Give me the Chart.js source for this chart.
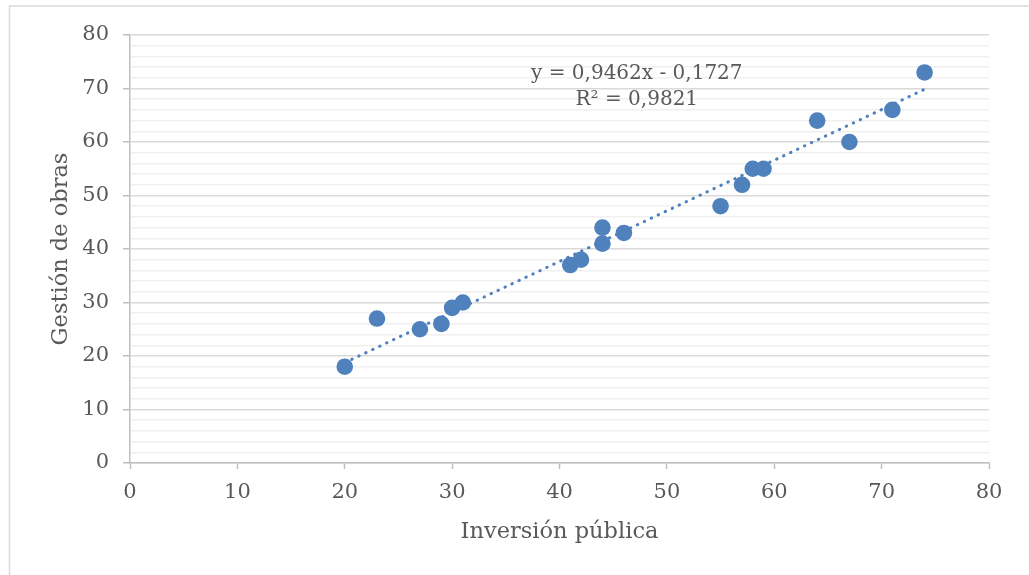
<!DOCTYPE html>
<html>
<head>
<meta charset="utf-8">
<script src="https://cdn.jsdelivr.net/npm/chart.js@4.4.0/dist/chart.umd.min.js"></script>
<style>
  html, body { margin: 0; padding: 0; background: #ffffff; }
  #wrap { width: 1029px; height: 575px; position: relative; }
</style>
</head>
<body>
<div id="wrap"><canvas id="c" width="1029" height="575"></canvas></div>
<script>
// ---- Data ----
const inversionPublica = [20, 23, 27, 29, 30, 31, 41, 42, 44, 44, 46, 55, 57, 58, 59, 64, 67, 71, 74];
const gestionObras     = [18, 27, 25, 26, 29, 30, 37, 38, 41, 44, 43, 48, 52, 55, 55, 64, 60, 66, 73];
const trendSlope = 0.9462;
const trendIntercept = -0.1727;
const trendRange = [20, 74];
const equationLabel = "y = 0,9462x - 0,1727";
const r2Label = "R² = 0,9821";
const xTitle = "Inversión pública";
const yTitle = "Gestión de obras";
const axisTicks = [0, 10, 20, 30, 40, 50, 60, 70, 80];

const points = inversionPublica.map((x, i) => ({ x: x, y: gestionObras[i] }));
const trendPoints = trendRange.map(x => ({ x: x, y: trendSlope * x + trendIntercept }));

const FONT = "'DejaVu Serif', serif";
const TEXT = '#595959';
const BLUE = '#4f81bd';

const framePlugin = {
  id: 'frame',
  beforeDraw(chart) {
    const ctx = chart.ctx;
    ctx.save();
    ctx.fillStyle = '#ffffff';
    ctx.fillRect(0, 0, chart.width, chart.height);
    ctx.strokeStyle = '#d9d9d9';
    ctx.lineWidth = 1.5;
    ctx.beginPath();
    ctx.moveTo(9.5, chart.height);
    ctx.lineTo(9.5, 6);
    ctx.lineTo(chart.width, 6);
    ctx.stroke();
    ctx.restore();
  },
  afterDatasetsDraw(chart) {
    const ctx = chart.ctx;
    const xs = chart.scales.x, ys = chart.scales.y;
    ctx.save();
    ctx.fillStyle = TEXT;
    ctx.font = "20px " + FONT;
    ctx.textAlign = 'center';
    ctx.textBaseline = 'middle';
    const cx = xs.getPixelForValue(47.2);
    ctx.fillText(equationLabel, cx, ys.getPixelForValue(72.8));
    ctx.fillText(r2Label, cx, ys.getPixelForValue(67.8));
    ctx.restore();
  }
};

new Chart(document.getElementById('c'), {
  type: 'scatter',
  data: {
    datasets: [
      {
        type: 'line',
        label: 'Tendencia',
        data: trendPoints,
        showLine: true,
        borderColor: BLUE,
        borderWidth: 3,
        borderCapStyle: 'round',
        borderDash: [0.5, 7.2],
        pointRadius: 0,
        fill: false,
        order: 0
      },
      {
        label: 'Gestión de obras',
        data: points,
        backgroundColor: BLUE,
        borderColor: BLUE,
        borderWidth: 0,
        pointRadius: 8.3,
        pointHoverRadius: 8.3,
        order: 1
      }
    ]
  },
  options: {
    responsive: false,
    animation: false,
    devicePixelRatio: 1,
    layout: { padding: { top: 35, right: 40, left: 0, bottom: 0 } },
    plugins: {
      legend: { display: false },
      tooltip: { enabled: false }
    },
    scales: {
      x: {
        type: 'linear',
        min: 0, max: 80,
        afterBuildTicks(scale) { scale.ticks = axisTicks.map(v => ({ value: v })); },
        afterFit(scale) { scale.height = 112; },
        ticks: { color: TEXT, font: { family: FONT, size: 21 }, padding: 11, maxRotation: 0 },
        grid: { drawOnChartArea: false, drawTicks: true, tickLength: 6, tickColor: '#bfbfbf', tickWidth: 1.5 },
        border: { color: '#bfbfbf', width: 1.5 },
        title: { display: true, text: xTitle, color: TEXT, font: { family: FONT, size: 22.5 }, padding: { top: 0, bottom: 29 } }
      },
      y: {
        type: 'linear',
        min: 0, max: 80,
        ticks: {
          stepSize: 2,
          autoSkip: false,
          color: TEXT,
          font: { family: FONT, size: 21 },
          padding: 14,
          callback: v => (v % 10 === 0 ? String(v) : '')
        },
        afterFit(scale) { scale.width = 130; },
        grid: {
          color: ctx => (ctx.tick && ctx.tick.value % 10 === 0 ? '#d9d9d9' : '#f0f0f0'),
          lineWidth: 1.5,
          tickLength: 7,
          tickColor: ctx => (ctx.tick && ctx.tick.value % 10 === 0 ? '#bfbfbf' : 'rgba(0,0,0,0)')
        },
        border: { color: '#bfbfbf', width: 1.5 },
        title: { display: true, text: yTitle, color: TEXT, font: { family: FONT, size: 22.5 }, padding: { top: 48, bottom: 0 } }
      }
    }
  },
  plugins: [framePlugin]
});
</script>
</body>
</html>
